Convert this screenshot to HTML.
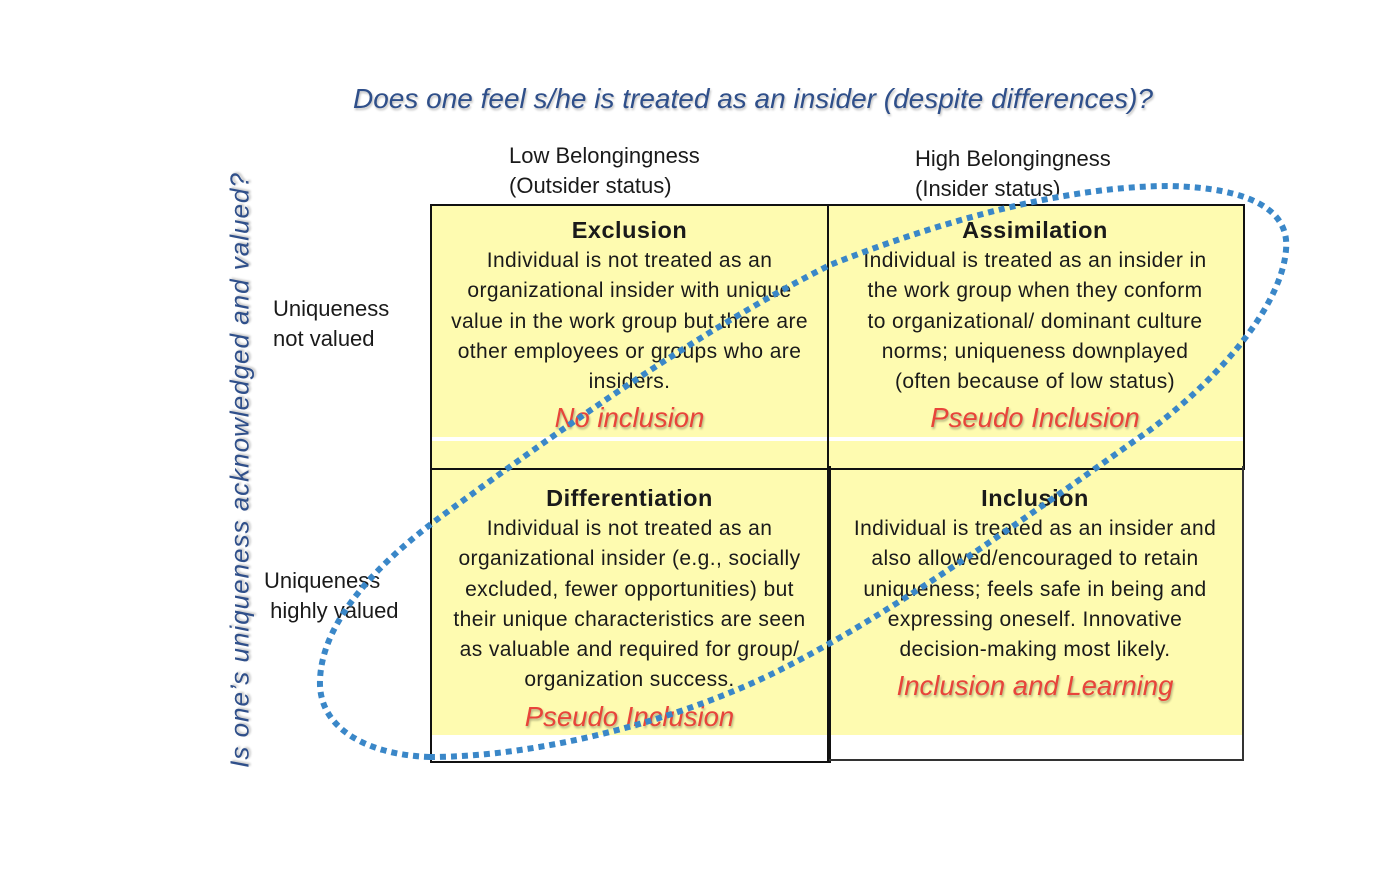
<!DOCTYPE html>
<html><head><style>
body{margin:0;width:1400px;height:869px;background:#fff;position:relative;overflow:hidden;font-family:"Liberation Sans",sans-serif;color:#1a1a1a}
.a{position:absolute;white-space:nowrap}
.cell{position:absolute;text-align:center;font-size:21px;letter-spacing:0.4px;line-height:30.3px}
.cell b{display:block;font-size:23.5px;letter-spacing:0.5px;line-height:30px;margin-bottom:1px}
.red{color:#e8443a;font-style:italic;font-size:27.5px;letter-spacing:0;line-height:35px;margin-top:3px;text-shadow:1px 2px 2px rgba(0,0,0,.3)}
.lbl{font-size:22px;line-height:30px}
</style></head><body>
<div class="a" style="left:0;width:1506px;top:83px;text-align:center;font-size:28px;font-style:italic;color:#2f4f8a;text-shadow:1px 2px 2px rgba(0,0,0,.25)">Does one feel s/he is treated as an insider (despite differences)?</div>
<div class="a" style="left:240px;top:470px;transform:translate(-50%,-50%) rotate(-90deg);font-size:26px;letter-spacing:1px;font-style:italic;color:#2f4f8a;text-shadow:1px 2px 2px rgba(0,0,0,.25)">Is one’s uniqueness acknowledged and valued?</div>
<div class="a lbl" style="left:509px;top:141px">Low Belongingness<br>(Outsider status)</div>
<div class="a lbl" style="left:915px;top:144px">High Belongingness<br>(Insider status)</div>
<div class="a lbl" style="left:273px;top:294px">Uniqueness<br>not valued</div>
<div class="a lbl" style="left:264px;top:566px">Uniqueness<br>&nbsp;highly valued</div>
<div class="a" style="left:430px;top:205px;width:813px;height:232px;background:#fefbb0"></div>
<div class="a" style="left:430px;top:441px;width:813px;height:294px;background:#fefbb0"></div>
<div class="a" style="left:430px;top:204px;width:811px;height:262px;border:2px solid #111"></div>
<div class="a" style="left:827px;top:204px;width:2px;height:558px;background:#111"></div>
<div class="a" style="left:430px;top:466px;width:397px;height:295px;border:2px solid #111;border-top:none"></div>
<div class="a" style="left:829px;top:466px;width:413px;height:293px;border-right:2px solid #333;border-bottom:2px solid #333"></div>
<div class="cell" style="left:432px;width:395px;top:215px"><b>Exclusion</b>Individual is not treated as an<br>organizational insider with unique<br>value in the work group but there are<br>other employees or groups who are<br>insiders.<div class="red">No inclusion</div></div>
<div class="cell" style="left:829px;width:412px;top:215px"><b>Assimilation</b>Individual is treated as an insider in<br>the work group when they conform<br>to organizational/ dominant culture<br>norms; uniqueness downplayed<br>(often because of low status)<div class="red">Pseudo Inclusion</div></div>
<div class="cell" style="left:432px;width:395px;top:483px"><b>Differentiation</b>Individual is not treated as an<br>organizational insider (e.g., socially<br>excluded, fewer opportunities) but<br>their unique characteristics are seen<br>as valuable and required for group/<br>organization success.<div class="red">Pseudo Inclusion</div></div>
<div class="cell" style="left:829px;width:412px;top:483px"><b>Inclusion</b>Individual is treated as an insider and<br>also allowed/encouraged to retain<br>uniqueness; feels safe in being and<br>expressing oneself. Innovative<br>decision-making most likely.<div class="red">Inclusion and Learning</div></div>
<svg class="a" style="left:0;top:0" width="1400" height="869">
<path d="M430,757 C370,755 318,730 320,680 C322,620 380,560 450,510 C560,430 700,330 830,265 C930,225 1060,186 1170,186 C1250,188 1290,210 1286,250 C1282,300 1230,370 1150,430 C1050,500 900,610 780,670 C680,720 540,757 430,757 Z" fill="none" stroke="#3a87c8" stroke-width="6" stroke-dasharray="6 5"/>
</svg>
</body></html>
